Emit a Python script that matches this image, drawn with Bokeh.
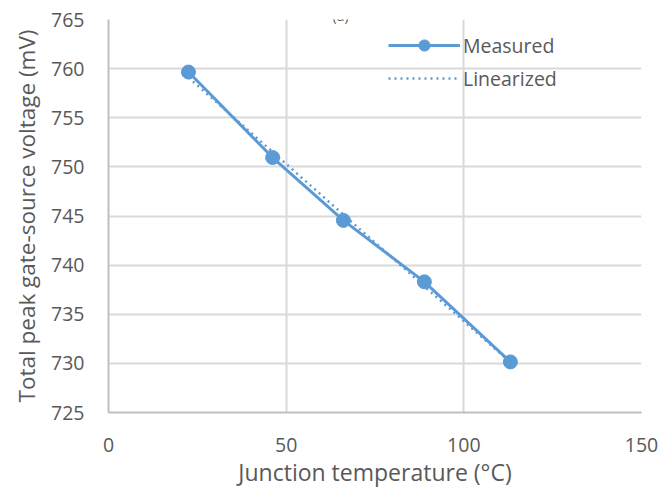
from bokeh.plotting import figure
from bokeh.models import Range1d, Legend, LegendItem, Label, FixedTicker
from bokeh.embed import file_html
from bokeh.resources import INLINE

# Data
temps = [22.5, 46.2, 66.1, 88.9, 113.1]          # Junction temperature (°C)
vgs = [759.65, 750.95, 744.55, 738.3, 730.15]    # Total peak gate-source voltage (mV)
lin_t = [22.5, 113.1]
lin_v = [759.1, 730.1]
x_ticks = [0, 50, 100, 150]
y_ticks = [725, 730, 735, 740, 745, 750, 755, 760, 765]

FONT = "Open Sans"
TXT = "#595959"
BLUE = "#5b9bd5"

p = figure(width=662, height=490, output_backend="svg", toolbar_location=None,
           x_range=Range1d(0, 150), y_range=Range1d(725, 765),
           min_border_left=108, min_border_right=21, min_border_top=19,
           min_border_bottom=75)
p.outline_line_color = None
p.background_fill_color = "white"
p.border_fill_color = "white"

for ax in (p.xaxis[0], p.yaxis[0]):
    ax.axis_line_color = "#bfbfbf"
    ax.axis_line_width = 2
    ax.major_tick_line_color = None
    ax.minor_tick_line_color = None
    ax.major_label_text_font = FONT
    ax.major_label_text_font_size = "19.5px"
    ax.major_label_text_color = TXT
    ax.axis_label_text_font = FONT
    ax.axis_label_text_font_style = "normal"
    ax.axis_label_text_color = TXT

p.xaxis.axis_label_text_font_size = "23px"
p.yaxis.axis_label_text_font_size = "22.5px"
p.xaxis.ticker = FixedTicker(ticks=x_ticks)
p.yaxis.ticker = FixedTicker(ticks=y_ticks)
p.xaxis.major_label_standoff = 19
p.yaxis.major_label_standoff = 18
p.xaxis.axis_label = "Junction temperature (°C)"
p.yaxis.axis_label = "Total peak gate-source voltage (mV)"
p.xaxis.axis_label_standoff = 1
p.yaxis.axis_label_standoff = 6

p.xgrid.ticker = FixedTicker(ticks=x_ticks)
p.ygrid.ticker = FixedTicker(ticks=y_ticks)
for g in (p.xgrid[0], p.ygrid[0]):
    g.grid_line_color = "#d9d9d9"
    g.grid_line_width = 2

r_meas_line = p.line(temps, vgs, line_color=BLUE, line_width=3)
r_meas_pts = p.scatter(temps, vgs, size=14, fill_color=BLUE, line_color=BLUE)
r_lin = p.line(lin_t, lin_v, line_color=BLUE, line_width=2.5, line_dash="2 4")

legend = Legend(items=[
    LegendItem(label="Measured", renderers=[r_meas_line, r_meas_pts]),
    LegendItem(label="Linearized", renderers=[r_lin]),
], location=(280, 320))
legend.background_fill_alpha = 0
legend.border_line_color = None
legend.label_text_font = FONT
legend.label_text_font_size = "19.5px"
legend.label_text_color = TXT
legend.glyph_width = 72
legend.glyph_height = 28
legend.spacing = 5
legend.label_standoff = 3
p.add_layout(legend)

title = Label(x=65.3, y=765.45, text="(a)",
              text_font=FONT, text_font_size="14px", text_color=TXT,
              text_align="center", text_baseline="alphabetic")
p.add_layout(title)

open("out.html", "w").write(file_html(p, INLINE))
